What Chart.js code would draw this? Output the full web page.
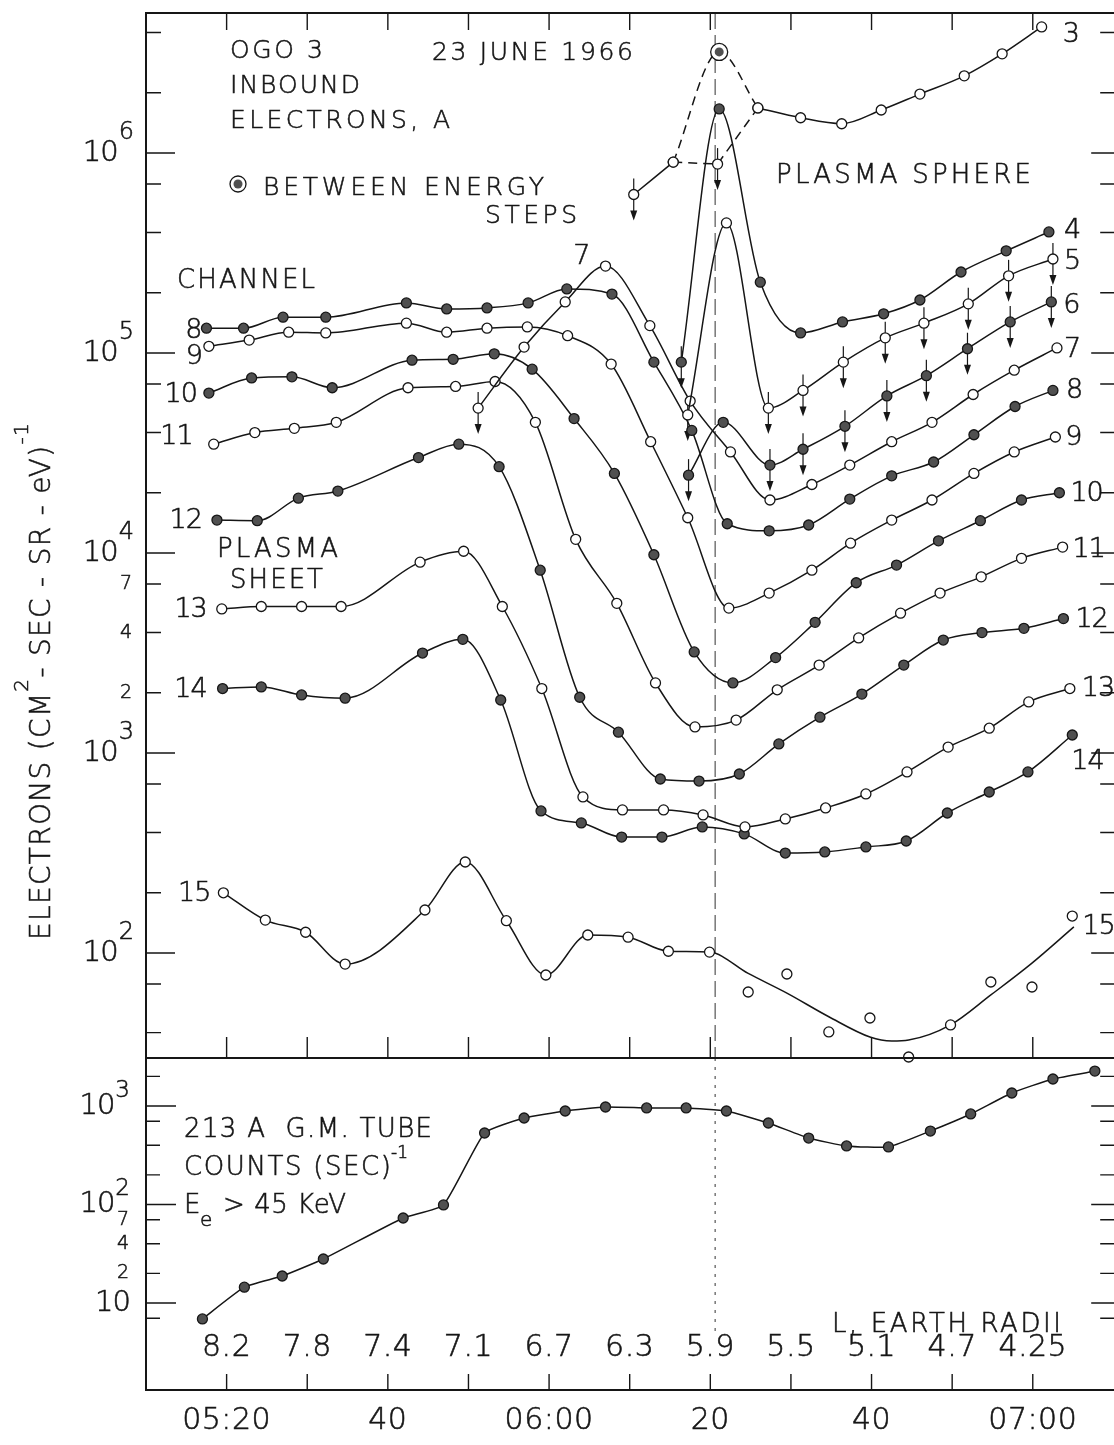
<!DOCTYPE html>
<html>
<head>
<meta charset="utf-8">
<title>OGO 3 inbound electrons, 23 June 1966</title>
<script src="https://cdn.jsdelivr.net/npm/chart.js@4.4.1/dist/chart.umd.min.js"></script>
<style>
  html, body { margin: 0; padding: 0; background: #fff; overflow: hidden; }
  canvas { display: block; }
</style>
</head>
<body>
<canvas id="ogoChart" width="1124" height="1445"></canvas>
<script>
// times are minutes after 05:00 UT, flux in electrons (cm2-sec-sr-eV)^-1
// a third entry of 1 marks an upper limit (drawn with a down arrow)
const ch3Early = [[70.5, 6.2e5, 1], [75.4, 9.0e5]];
const ch3Late = [[85.9, 1.68e6], [91.2, 1.5e6], [96.3, 1.4e6], [101.2, 1.64e6], [106.0, 1.97e6], [111.5, 2.43e6], [116.2, 3.13e6], [121.1, 4.27e6]];
const ch3BetweenSteps = [81.1, 3.2e6];
const ch3LowStep = [80.9, 8.8e5, 1];

const ch4 = [[76.4, 9.0e4, 1], [81.1, 1.66e6], [86.2, 2.26e5], [91.2, 1.26e5], [96.4, 1.43e5], [101.5, 1.57e5], [106.0, 1.84e5], [111.1, 2.54e5], [116.7, 3.24e5], [122.0, 4.03e5]];
const ch5 = [[77.2, 4.9e4, 1], [82.0, 4.47e5], [87.2, 5.3e4, 1], [91.5, 6.5e4, 1], [96.5, 9.0e4, 1], [101.7, 1.19e5, 1], [106.5, 1.41e5, 1], [112.0, 1.76e5, 1], [117.0, 2.43e5, 1], [122.5, 2.95e5, 1]];
const ch6 = [[77.3, 2.45e4, 1], [81.6, 4.5e4], [87.4, 2.75e4, 1], [91.5, 3.3e4, 1], [96.7, 4.3e4, 1], [101.9, 6.1e4, 1], [106.8, 7.7e4, 1], [111.9, 1.05e5, 1], [117.2, 1.43e5, 1], [122.3, 1.80e5, 1]];
const ch7 = [[51.2, 5.3e4, 1], [56.9, 1.07e5], [62.0, 1.80e5], [67.0, 2.72e5], [72.5, 1.37e5], [77.5, 5.75e4], [82.5, 3.2e4], [87.4, 1.84e4], [92.6, 2.2e4], [97.3, 2.75e4], [102.5, 3.6e4], [107.5, 4.5e4], [112.6, 6.2e4], [117.7, 8.2e4], [123.0, 1.06e5]];
const ch8 = [[17.5, 1.33e5], [22.1, 1.33e5], [27.0, 1.51e5], [32.3, 1.51e5], [42.3, 1.78e5], [47.3, 1.66e5], [52.3, 1.68e5], [57.4, 1.78e5], [62.2, 2.09e5], [67.8, 1.97e5], [73.0, 9.0e4], [77.7, 4.1e4], [82.1, 1.40e4], [87.3, 1.29e4], [92.2, 1.38e4], [97.3, 1.86e4], [102.5, 2.43e4], [107.7, 2.85e4], [112.7, 3.9e4], [117.8, 5.4e4], [122.5, 6.5e4]];
const ch9 = [[17.8, 1.08e5], [22.8, 1.16e5], [27.7, 1.27e5], [32.3, 1.26e5], [42.3, 1.41e5], [47.3, 1.27e5], [52.3, 1.33e5], [57.3, 1.35e5], [62.3, 1.22e5], [67.7, 8.8e4], [72.6, 3.6e4], [77.2, 1.5e4], [82.3, 5.3e3], [87.3, 6.3e3], [92.6, 8.2e3], [97.4, 1.12e4], [102.5, 1.46e4], [107.5, 1.84e4], [112.7, 2.5e4], [117.7, 3.2e4], [122.8, 3.8e4]];
const ch10 = [[17.8, 6.3e4], [23.1, 7.5e4], [28.1, 7.6e4], [33.1, 6.7e4], [43.0, 9.2e4], [48.1, 9.3e4], [53.2, 9.9e4], [57.9, 8.3e4], [63.1, 4.7e4], [68.1, 2.5e4], [73.0, 9.8e3], [78.0, 3.2e3], [82.8, 2.24e3], [88.1, 3.0e3], [93.0, 4.5e3], [98.1, 7.1e3], [103.1, 8.7e3], [108.3, 1.15e4], [113.5, 1.45e4], [118.6, 1.84e4], [123.3, 2.0e4]];
const ch11 = [[18.4, 3.5e4], [23.5, 4.0e4], [28.4, 4.2e4], [33.6, 4.5e4], [42.5, 6.7e4], [48.4, 6.8e4], [53.3, 7.2e4], [58.3, 4.5e4], [63.3, 1.17e4], [68.4, 5.6e3], [73.2, 2.24e3], [78.1, 1.35e3], [83.2, 1.46e3], [88.3, 2.07e3], [93.5, 2.75e3], [98.4, 3.76e3], [103.6, 5.0e3], [108.5, 6.3e3], [113.6, 7.6e3], [118.6, 9.4e3], [123.7, 1.07e4]];
const ch12 = [[18.8, 1.46e4], [23.8, 1.45e4], [28.9, 1.88e4], [33.8, 2.04e4], [43.8, 3.0e4], [48.8, 3.5e4], [53.8, 2.7e4], [58.9, 8.2e3], [63.8, 1.9e3], [68.6, 1.27e3], [73.8, 741], [78.6, 724], [83.6, 785], [88.5, 1.11e3], [93.6, 1.51e3], [98.8, 1.97e3], [104.0, 2.75e3], [108.9, 3.67e3], [113.7, 4.0e3], [118.9, 4.2e3], [123.8, 4.7e3]];
const ch13 = [[19.4, 5.25e3], [24.3, 5.4e3], [29.3, 5.4e3], [34.2, 5.4e3], [44.0, 9.0e3], [49.4, 1.02e4], [54.2, 5.4e3], [59.1, 2.1e3], [64.2, 603], [69.1, 519], [74.2, 519], [79.1, 490], [84.3, 427], [89.3, 468], [94.3, 531], [99.3, 624], [104.4, 804], [109.5, 1.07e3], [114.6, 1.33e3], [119.5, 1.8e3], [124.6, 2.1e3]];
const ch14 = [[19.5, 2.1e3], [24.3, 2.14e3], [29.3, 1.95e3], [34.7, 1.88e3], [44.3, 3.16e3], [49.3, 3.7e3], [54.0, 1.84e3], [59.0, 513], [64.0, 447], [69.0, 380], [74.0, 380], [79.0, 427], [84.2, 394], [89.3, 316], [94.2, 320], [99.3, 339], [104.3, 363], [109.4, 501], [114.6, 638], [119.4, 804], [124.9, 1.23e3]];
const ch15 = [[19.6, 200], [24.8, 146], [29.8, 127], [34.7, 88], [44.6, 164], [49.6, 285], [54.7, 145], [59.6, 77.6], [64.8, 123], [69.8, 120], [74.8, 102], [79.9, 101], [84.7, 63.8], [89.5, 78.5], [94.7, 40.3], [99.8, 47.3], [104.6, 30.2], [109.8, 43.7], [114.8, 71.6], [119.9, 67.6], [124.9, 153]];
// hand-drawn smooth fit through the scattered channel 15 points after 06:20
const ch15Fit = [[79.9, 101], [84.7, 79], [89.5, 63], [94.7, 48], [99.8, 38], [102.5, 36.3], [104.6, 36.7], [109.8, 43.7], [114.8, 61.7], [119.9, 89], [125.1, 135]];

// 213 A G.M. tube, counts per second, Ee > 45 keV
const gmTube = [[17.0, 6.9], [22.2, 14.5], [26.9, 18.8], [32.0, 28], [41.9, 73], [46.9, 99], [52.0, 532], [56.9, 755], [62.0, 890], [67.0, 977], [72.1, 955], [77.0, 955], [82.0, 890], [87.2, 672], [92.2, 473], [96.9, 393], [102.1, 384], [107.3, 557], [112.3, 830], [117.4, 1355], [122.5, 1880], [127.7, 2260]];

const plasmapauseTime = 80.6;
const timeRange = [10, 130.1];
const fluxRange = [29.85, 5.01e6];
const gmRange = [1.31, 3070];

const timeTicks = [20, 30, 40, 50, 60, 70, 80, 90, 100, 110, 120];
const timeLabels = ['05:20', '', '40', '', '06:00', '', '20', '', '40', '', '07:00'];
const lShellLabels = ['8.2', '7.8', '7.4', '7.1', '6.7', '6.3', '5.9', '5.5', '5.1', '4.7', '4.25'];

const fluxDecades = [1e2, 1e3, 1e4, 1e5, 1e6];
const fluxExponents = ['2', '3', '4', '5', '6'];
const fluxMinorTicks = [40, 70, 200, 400, 700, 2e3, 4e3, 7e3, 2e4, 4e4, 7e4, 2e5, 4e5, 7e5, 2e6, 4e6];
const fluxMinorLabelled = [2e3, 4e3, 7e3];
const gmDecades = [10, 100, 1000];
const gmExponents = ['', '2', '3'];
const gmMinorTicks = [7, 20, 40, 70, 200, 400, 700, 2000];
const gmMinorLabelled = [20, 40, 70];
const minorLabels = ['2', '4', '7'];

const INK = '#161616';
const DOT = '#505050';
const FAMILY = "'DejaVu Sans', 'Liberation Sans', sans-serif";
const WEIGHT = '200';
const font = s => `${WEIGHT} ${s}px ${FAMILY}`;

// light lettering with a hairline stroke, close to the pen lettering of the original
function put(ctx, s, x, y, size, align = 'left', baseline = 'alphabetic', spacing = 0) {
    ctx.font = font(size);
    ctx.letterSpacing = spacing + 'px';
    ctx.textAlign = align;
    ctx.textBaseline = baseline;
    ctx.fillText(s, x, y);
    ctx.save();
    ctx.lineWidth = 0.55;
    ctx.strokeStyle = INK;
    ctx.setLineDash([]);
    ctx.strokeText(s, x, y);
    ctx.restore();
}

// spread a label so it covers the same width as the lettering on the original
function fit(ctx, s, left, base, size, width) {
    ctx.font = font(size);
    ctx.letterSpacing = '0px';
    const w = ctx.measureText(s).width;
    const sp = s.length > 1 ? (width - w) / (s.length - 1) : 0;
    put(ctx, s, left, base, size, 'left', 'alphabetic', sp);
}

function series(label, points, filled, extra) {
    return Object.assign({
        label: label,
        data: points.map(p => ({ x: p[0], y: p[1] })),
        upperLimit: points.map(p => p[2] === 1),
        yAxisID: 'yFlux',
        borderColor: INK,
        borderWidth: 1.5,
        pointRadius: 5,
        pointBorderWidth: 1.3,
        pointBorderColor: INK,
        pointBackgroundColor: filled ? DOT : '#fff',
        cubicInterpolationMode: 'monotone',
        clip: false,
    }, extra || {});
}

function endPoint(chart, label, last) {
    const i = chart.data.datasets.findIndex(d => d.label === label);
    const pts = chart.getDatasetMeta(i).data;
    return last ? pts[pts.length - 1] : pts[0];
}

function powerLabel(ctx, exp, xRight, y, baseSize, supSize, rise) {
    let ws = 0;
    if (exp) {
        ctx.font = font(supSize);
        ctx.letterSpacing = '0px';
        ws = ctx.measureText(exp).width + 1;
        put(ctx, exp, xRight, y - rise, supSize, 'right', 'middle');
    }
    put(ctx, '10', xRight - ws, y, baseSize, 'right', 'middle', -1);
}

const figurePlugin = {
    id: 'figure',
    beforeDatasetsDraw(chart) {
        const { ctx, chartArea: a, scales: { x, yFlux, yGm } } = chart;
        ctx.save();
        // plasmapause crossing
        const px = x.getPixelForValue(plasmapauseTime);
        ctx.strokeStyle = '#555';
        ctx.lineWidth = 1.2;
        ctx.setLineDash([16, 6]);
        ctx.beginPath();
        ctx.moveTo(px, a.top);
        ctx.lineTo(px, yFlux.bottom);
        ctx.stroke();
        ctx.setLineDash([3, 6]);
        ctx.beginPath();
        ctx.moveTo(px, yGm.top);
        ctx.lineTo(px, yGm.bottom - 58);
        ctx.stroke();
        ctx.setLineDash([]);

        // upper limits
        ctx.strokeStyle = INK;
        ctx.fillStyle = INK;
        ctx.lineWidth = 1.2;
        chart.data.datasets.forEach((ds, i) => {
            if (!ds.upperLimit) return;
            const meta = chart.getDatasetMeta(i);
            ds.upperLimit.forEach((isLimit, j) => {
                if (!isLimit) return;
                const p = meta.data[j];
                ctx.beginPath();
                ctx.moveTo(p.x, p.y - 16);
                ctx.lineTo(p.x, p.y + 18);
                ctx.stroke();
                ctx.beginPath();
                ctx.moveTo(p.x - 3.5, p.y + 16);
                ctx.lineTo(p.x + 3.5, p.y + 16);
                ctx.lineTo(p.x, p.y + 26);
                ctx.closePath();
                ctx.fill();
            });
        });
        ctx.restore();
    },
    afterDatasetsDraw(chart) {
        const { ctx, chartArea: a, scales: { x, yFlux, yGm } } = chart;
        ctx.save();
        ctx.strokeStyle = INK;
        ctx.fillStyle = INK;

        // frame and panel divider
        ctx.lineWidth = 2;
        ctx.beginPath();
        ctx.moveTo(a.right, a.top);
        ctx.lineTo(a.left, a.top);
        ctx.lineTo(a.left, a.bottom);
        ctx.lineTo(a.right, a.bottom);
        ctx.moveTo(a.left, yGm.top);
        ctx.lineTo(a.right, yGm.top);
        ctx.stroke();

        // time ticks, all pointing inwards
        ctx.lineWidth = 1.4;
        ctx.beginPath();
        timeTicks.forEach(t => {
            const px = x.getPixelForValue(t);
            ctx.moveTo(px, a.top); ctx.lineTo(px, a.top + 17);
            ctx.moveTo(px, yFlux.bottom); ctx.lineTo(px, yFlux.bottom - 21);
            ctx.moveTo(px, a.bottom); ctx.lineTo(px, a.bottom - 16);
        });
        const yTick = (scale, v, left, right) => {
            const py = scale.getPixelForValue(v);
            ctx.moveTo(a.left, py); ctx.lineTo(a.left + left, py);
            ctx.moveTo(a.right, py); ctx.lineTo(a.right - right, py);
        };
        fluxDecades.forEach(v => yTick(yFlux, v, 29, 23));
        fluxMinorTicks.forEach(v => yTick(yFlux, v, 15, 14));
        gmDecades.forEach(v => yTick(yGm, v, 30, 23));
        gmMinorTicks.forEach(v => yTick(yGm, v, 14, 14));
        ctx.stroke();

        // y tick labels
        fluxDecades.forEach((v, i) => powerLabel(ctx, fluxExponents[i], 134, yFlux.getPixelForValue(v), 29, 24, 20));
        fluxMinorLabelled.forEach((v, i) => put(ctx, minorLabels[i], 132, yFlux.getPixelForValue(v), 19, 'right', 'middle'));
        gmDecades.forEach((v, i) => powerLabel(ctx, gmExponents[i], 130, yGm.getPixelForValue(v), 29, 23, 15));
        gmMinorLabelled.forEach((v, i) => put(ctx, minorLabels[i], 129, yGm.getPixelForValue(v), 19, 'right', 'middle'));

        // L shell row and time row
        timeTicks.forEach((t, i) => {
            const px = x.getPixelForValue(t);
            put(ctx, lShellLabels[i], px, a.bottom - 42, 30, 'center', 'middle', 0.5);
            if (timeLabels[i]) put(ctx, timeLabels[i], px, a.bottom + 31, 30, 'center', 'middle', 0.5);
        });
        fit(ctx, 'L, EARTH RADII', 832, 1332, 26, 229);

        // channel numbers at both ends of the curves
        const leftTags = [['8', 'ch8', -5, 3], ['9', 'ch9', -7, 11], ['10', 'ch10', -12, 2], ['11', 'ch11', -21, -7],
            ['12', 'ch12', -15, 1], ['13', 'ch13', -15, 1], ['14', 'ch14', -16, 1], ['15', 'ch15', -13, 1]];
        const rightTags = [['3', 'ch3', 21, 8], ['4', 'ch4', 15, -1], ['5', 'ch5', 11, 3], ['6', 'ch6', 12, 4],
            ['7', 'ch7', 7, 2], ['8', 'ch8', 13, 1], ['9', 'ch9', 10, 1], ['10', 'ch10', 11, 1], ['11', 'ch11', 10, 3],
            ['12', 'ch12', 12, 1], ['13', 'ch13', 12, 0], ['14', 'ch14', -1, 27], ['15', 'ch15', 10, 11]];
        leftTags.forEach(([tag, lab, dx, dy]) => {
            const p = endPoint(chart, lab, false);
            put(ctx, tag, p.x + dx, p.y + dy, 27, 'right', 'middle', -1);
        });
        rightTags.forEach(([tag, lab, dx, dy]) => {
            const p = endPoint(chart, lab, true);
            put(ctx, tag, p.x + dx, p.y + dy, 27, 'left', 'middle', -1);
        });
        // the "7" beside the peak of channel 7
        const i7 = chart.data.datasets.findIndex(d => d.label === 'ch7');
        const peak = ch7.reduce((m, p, i) => (p[1] > ch7[m][1] ? i : m), 0);
        const p7 = chart.getDatasetMeta(i7).data[peak];
        put(ctx, '7', p7.x - 15, p7.y - 9, 27, 'right', 'middle');

        // annotations
        fit(ctx, 'OGO 3', 230, 58, 25, 93);
        fit(ctx, 'INBOUND', 230, 93, 25, 130);
        fit(ctx, 'ELECTRONS, A', 230, 128, 25, 220);
        fit(ctx, '23 JUNE 1966', 432, 60, 25, 201);
        fit(ctx, 'BETWEEN ENERGY', 263, 195, 25, 281);
        fit(ctx, 'STEPS', 485, 223, 25, 92);
        fit(ctx, 'PLASMA SPHERE', 776, 183, 26, 255);
        fit(ctx, 'CHANNEL', 177, 288, 26, 138);
        fit(ctx, 'PLASMA', 217, 557, 26, 121);
        fit(ctx, 'SHEET', 230, 588, 26, 93);
        fit(ctx, '213 A  G.M. TUBE', 184, 1137, 26, 248);
        fit(ctx, 'COUNTS (SEC)', 184, 1175, 26, 207);
        put(ctx, '-1', 391, 1158, 17);
        put(ctx, 'E', 184, 1213, 26);
        put(ctx, 'e', 200, 1226, 20);
        fit(ctx, '> 45 KeV', 223, 1213, 26, 123);

        // legend glyph for the between-steps point
        ctx.lineWidth = 1.3;
        ctx.beginPath();
        ctx.arc(238, 184, 8, 0, Math.PI * 2);
        ctx.stroke();
        ctx.fillStyle = DOT;
        ctx.beginPath();
        ctx.arc(238, 184, 4.5, 0, Math.PI * 2);
        ctx.fill();
        ctx.fillStyle = INK;

        // rotated y title
        ctx.translate(40, 681);
        ctx.rotate(-Math.PI / 2);
        const runs = [['ELECTRONS (CM', 28, 0], ['2', 20, 22], ['- SEC - SR - eV)', 28, 0], ['-1', 20, 22]];
        let total = 0;
        runs.forEach(r => { ctx.font = font(r[1]); ctx.letterSpacing = '1.3px'; total += ctx.measureText(r[0]).width; });
        let cx = -total / 2;
        runs.forEach(r => {
            put(ctx, r[0], cx, 10 - r[2], r[1], 'left', 'alphabetic', 1.3);
            ctx.font = font(r[1]);
            ctx.letterSpacing = '1.3px';
            cx += ctx.measureText(r[0]).width;
        });
        ctx.restore();
    }
};

const datasets = [
    series('between', [ch3BetweenSteps], true, { pointRadius: 4.5, pointBorderWidth: 0, showLine: false }),
    series('betweenRing', [ch3BetweenSteps], false, { pointRadius: 8.5, showLine: false }),
    series('ch3low', [ch3Early[1], ch3LowStep, ch3Late[0]], false, { borderDash: [9, 6], cubicInterpolationMode: 'default', tension: 0 }),
    series('ch3between', [ch3Early[1], ch3BetweenSteps, ch3Late[0]], false, { borderDash: [9, 6], pointRadius: 0 }),
    series('ch3early', ch3Early, false),
    series('ch3', ch3Late, false),
    series('ch4', ch4, true),
    series('ch5', ch5, false),
    series('ch6', ch6, true),
    series('ch7', ch7, false),
    series('ch8', ch8, true),
    series('ch9', ch9, false),
    series('ch10', ch10, true),
    series('ch11', ch11, false),
    series('ch12', ch12, true),
    series('ch13', ch13, false),
    series('ch14', ch14, true),
    series('ch15', ch15, false, { showLine: false }),
    series('ch15curve', ch15.filter(p => p[0] <= ch15Fit[0][0]).concat(ch15Fit.slice(1)), false, { pointRadius: 0 }),
    // the counter trace is drawn as joined straight segments on the original
    series('gm', gmTube, true, { yAxisID: 'yGm', cubicInterpolationMode: 'default', tension: 0.15 }),
];

new Chart(document.getElementById('ogoChart').getContext('2d'), {
    type: 'line',
    data: { datasets },
    options: {
        responsive: false,
        animation: false,
        devicePixelRatio: 1,
        layout: { padding: { top: 13, right: 5, bottom: 0, left: 0 } },
        plugins: { legend: { display: false }, tooltip: { enabled: false } },
        scales: {
            x: {
                type: 'linear',
                min: timeRange[0],
                max: timeRange[1],
                bounds: 'data',
                grid: { display: false },
                border: { display: false },
                ticks: { display: false },
                afterFit: s => { s.height = 55; },
            },
            yFlux: {
                type: 'logarithmic',
                position: 'left',
                stack: 'panels',
                stackWeight: 1045,
                weight: 2,
                min: fluxRange[0],
                max: fluxRange[1],
                bounds: 'data',
                grid: { display: false },
                border: { display: false },
                ticks: { display: false },
                afterFit: s => { s.width = 146; },
            },
            yGm: {
                type: 'logarithmic',
                position: 'left',
                stack: 'panels',
                stackWeight: 332,
                weight: 1,
                min: gmRange[0],
                max: gmRange[1],
                bounds: 'data',
                grid: { display: false },
                border: { display: false },
                ticks: { display: false },
                afterFit: s => { s.width = 146; },
            },
        },
    },
    plugins: [figurePlugin],
});
</script>
</body>
</html>
